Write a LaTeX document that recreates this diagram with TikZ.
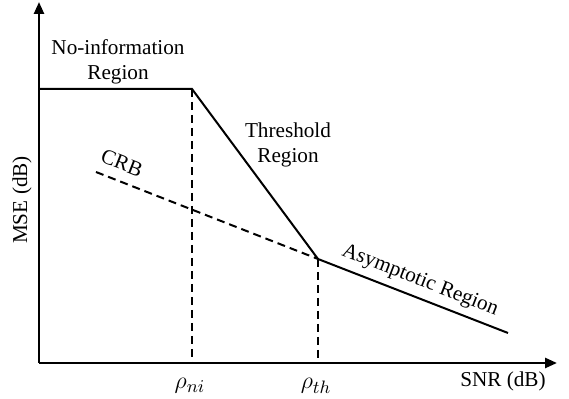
\documentclass[tikz,border=0pt]{standalone}
\usepackage{fontspec}
\setmainfont{Liberation Serif}
\usepackage{tikz}
\usetikzlibrary{arrows.meta}
\tikzstyle{axis}  = [line width=1.25pt, -{Triangle[length=6pt,width=5pt]}]
\tikzstyle{curve} = [line width=1pt]
\tikzstyle{guide} = [line width=1pt, dash pattern=on 4pt off 2.5pt]
\tikzstyle{lbl}   = [font=\fontsize{10.6}{12.6}\selectfont, inner sep=0pt, align=center]
\tikzstyle{tick}  = [font=\fontsize{12.5}{14}\selectfont, inner sep=0pt]

\begin{document}
\begin{tikzpicture}[x=0.5pt, y=-0.5pt]
      \useasboundingbox (0,0) rectangle (569,399);

      \coordinate (O)    at (39,363);
      \coordinate (ytop) at (39,2);
      \coordinate (xend) at (557,363);

      \coordinate (A)  at (39,89);
      \coordinate (B)  at (192,89);
      \coordinate (C)  at (318,259);
      \coordinate (D)  at (508,333);
      \coordinate (E)  at (96,172);
      \coordinate (Bx) at (192,363);
      \coordinate (Cx) at (318,363);

      \node (noinfo) [lbl] at (118,62)  {No-information\\Region};
      \node (thresh) [lbl] at (288,145) {Threshold\\Region};
      \node (crb)    [lbl, rotate=-21.4] at (122,163) {CRB};
      \node (asym)   [lbl, rotate=-21.3] at (420,281) {Asymptotic Region};
      \node (mse)    [lbl, rotate=90]    at (22,200)  {MSE (dB)};
      \node (snr)    [lbl] at (503,381) {SNR (dB)};
      \node (rhoni)  [tick] at (190,386) {$\rho_{ni}$};
      \node (rhoth)  [tick] at (316,386) {$\rho_{th}$};

      \draw [axis] (O) -- (ytop);
      \draw [axis] (O) -- (xend);

      \draw [curve] (A) -- (B) -- (C) -- (D);

      \draw [guide] (E) -- (C);
      \draw [guide] (B) -- (Bx);
      \draw [guide] (C) -- (Cx);

    \end{tikzpicture}
\end{document}
